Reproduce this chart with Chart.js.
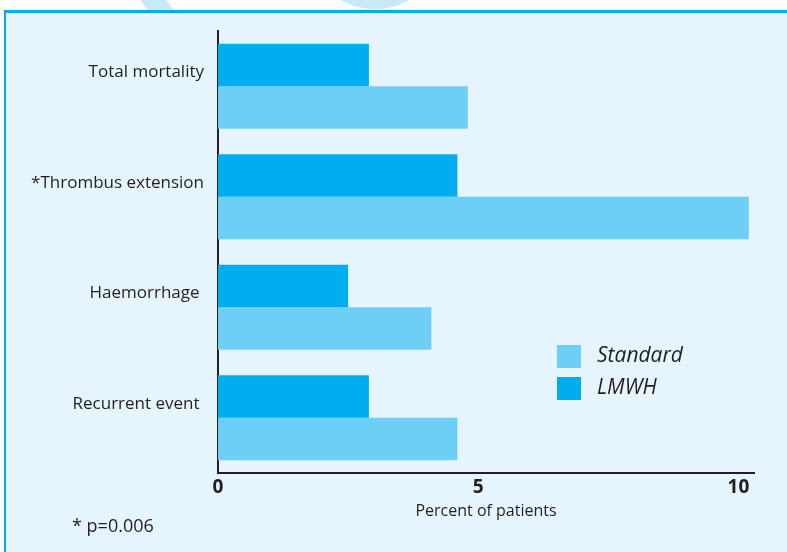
<!DOCTYPE html>
<html>
<head>
<meta charset="utf-8">
<script src="https://cdn.jsdelivr.net/npm/chart.js@4"></script>
<style>
  html, body { margin: 0; padding: 0; background: #fff; }
  body { width: 787px; height: 552px; position: relative; overflow: hidden; font-family: 'Open Sans', sans-serif; color: #231f20; }
  .deco-band { position: absolute; left: 140px; top: -20px; width: 26px; height: 40px; background: #c7e9f8; transform: skewX(38deg); }
  .deco-arc { position: absolute; left: 300px; top: -150px; width: 150px; height: 159px; border-radius: 50%; background: #c7e9f8; }
  .frame { position: absolute; left: 4px; top: 10px; right: -10px; bottom: -10px; background: #e6f5fd; border-top: 3px solid #00aeef; border-left: 2px solid #00aeef; }
  #wrap { position: absolute; left: 0; top: 0; width: 787px; height: 552px; }
  .legend { position: absolute; left: 557px; top: 345px; font-size: 21px; font-style: italic; }
  .legend div { height: 32px; position: relative; }
  .legend span.box { position: absolute; left: 0; top: 0; width: 24px; height: 23px; }
  .legend span.lbl { position: absolute; left: 40px; top: -5px; white-space: nowrap; }
  .note { position: absolute; left: 72px; top: 513px; font-size: 18px; }
</style>
</head>
<body>
<div class="deco-band"></div>
<div class="deco-arc"></div>
<div class="frame"></div>
<div id="wrap"><canvas id="chart"></canvas></div>
<div class="legend">
  <div><span class="box" style="background:#6dcff6"></span><span class="lbl">Standard</span></div>
  <div><span class="box" style="background:#00aeef"></span><span class="lbl">LMWH</span></div>
</div>
<div class="note">* p=0.006</div>
<script>
  var categories = ['Total mortality', '*Thrombus extension', 'Haemorrhage ', 'Recurrent event '];
  var lmwhValues = [2.9, 4.6, 2.5, 2.9];
  var standardValues = [4.8, 10.2, 4.1, 4.6];
  var xTicks = [0, 5, 10];

  var ink = '#231f20';

  new Chart(document.getElementById('chart'), {
    type: 'bar',
    data: {
      labels: categories,
      datasets: [
        { label: 'LMWH', data: lmwhValues, backgroundColor: '#00aeef', barPercentage: 1, categoryPercentage: 0.768 },
        { label: 'Standard', data: standardValues, backgroundColor: '#6dcff6', barPercentage: 1, categoryPercentage: 0.768 }
      ]
    },
    options: {
      indexAxis: 'y',
      responsive: true,
      maintainAspectRatio: false,
      animation: false,
      layout: { padding: { left: 0, right: 33, top: 31, bottom: 31 } },
      plugins: { legend: { display: false }, tooltip: { enabled: false } },
      scales: {
        x: {
          min: 0,
          max: 10.3,
          afterBuildTicks: function (s) { s.ticks = xTicks.map(function (v) { return { value: v }; }); },
          afterFit: function (s) { s.height = 48; },
          grid: { display: false, drawTicks: false },
          border: { color: ink, width: 2 },
          ticks: { color: ink, padding: 3, maxRotation: 0, includeBounds: false, font: { family: 'Open Sans', size: 19, weight: 'bold' } },
          title: { display: true, text: 'Percent of patients', color: ink, padding: 0, font: { family: 'Open Sans', size: 16 } }
        },
        y: {
          afterFit: function (s) { s.width = 218; },
          grid: { display: false, drawTicks: false },
          border: { color: ink, width: 2 },
          ticks: { color: ink, padding: 14, labelOffset: -14, font: { family: 'Open Sans', size: 17 } }
        }
      }
    }
  });
</script>
</body>
</html>
